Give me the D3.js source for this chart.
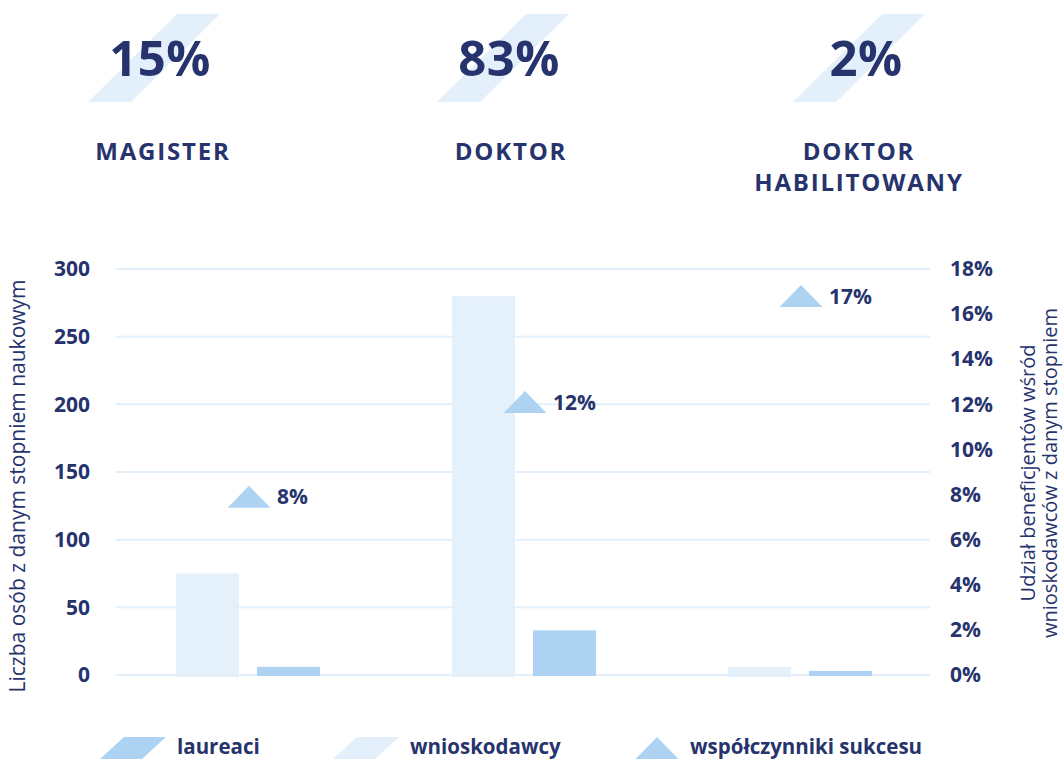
<!DOCTYPE html>
<html>
<head>
<meta charset="utf-8">
<script src="https://cdn.jsdelivr.net/npm/d3@7"></script>
<style>
  body { margin: 0; background: #fff; }
  text { font-family: "Open Sans", "Roboto", sans-serif; }
</style>
</head>
<body>
<div id="chart"></div>
<script>
// data
var degrees = ["MAGISTER", "DOKTOR", "DOKTOR HABILITOWANY"];
var degreeLines = [["MAGISTER"], ["DOKTOR"], ["DOKTOR", "HABILITOWANY"]];
var shareLabels = ["15%", "83%", "2%"];
var applicants = [75, 280, 6];        // wnioskodawcy
var winners = [6, 33, 3];             // laureaci
var successRate = [7.9, 12.1, 16.8];  // współczynniki sukcesu (%)
var leftTicks = [0, 50, 100, 150, 200, 250, 300];
var rightTicks = [0, 2, 4, 6, 8, 10, 12, 14, 16, 18];

var navy = "#26336d",
    light = "#e3effa",
    mid = "#aed3f2";

var width = 1063, height = 759;
var svg = d3.select("#chart").append("svg")
  .attr("width", width).attr("height", height);

// scales
var x = d3.scalePoint().domain(degrees).range([248, 800]);
var y = d3.scaleLinear().domain([0, 300]).range([675, 269]);
var y2 = d3.scaleLinear().domain([0, 18]).range([675, 269]);

// parallelogram helper
function para(cx, cy, w, h, slant) {
  return "M" + (cx - w / 2 + slant / 2) + "," + (cy - h / 2) +
         "L" + (cx + w / 2 + slant / 2) + "," + (cy - h / 2) +
         "L" + (cx + w / 2 - slant / 2) + "," + (cy + h / 2) +
         "L" + (cx - w / 2 - slant / 2) + "," + (cy + h / 2) + "Z";
}

// header: big shares
var headX = [154, 503, 859];
var head = svg.append("g").selectAll("g").data(degrees).enter().append("g");
head.append("path")
  .attr("d", function(d, i) { return para(headX[i], 58, 43, 88, 89); })
  .attr("fill", light);
head.append("text")
  .attr("x", function(d, i) { return [160, 509, 866][i]; })
  .attr("y", 76)
  .attr("text-anchor", "middle")
  .attr("font-size", "49px").attr("font-weight", 700)
  .attr("letter-spacing", "0.5px")
  .attr("fill", navy)
  .text(function(d, i) { return shareLabels[i]; });
head.each(function(d, i) {
  var t = d3.select(this).append("text")
    .attr("text-anchor", "middle")
    .attr("font-size", "24px").attr("font-weight", 700)
    .attr("letter-spacing", "1.8px")
    .attr("fill", navy);
  degreeLines[i].forEach(function(line, j) {
    t.append("tspan").attr("x", [163, 511, 859][i]).attr("y", 160 + j * 31).text(line);
  });
});

// grid
svg.append("g").selectAll("line").data(leftTicks).enter().append("line")
  .attr("x1", 116).attr("x2", 930)
  .attr("y1", function(d) { return y(d); }).attr("y2", function(d) { return y(d); })
  .attr("stroke", light).attr("stroke-width", 2);

// left axis
svg.append("g")
  .attr("transform", "translate(90,0)")
  .call(d3.axisLeft(y).tickValues(leftTicks).tickSize(0).tickPadding(0))
  .call(function(g) { g.select(".domain").remove(); })
  .selectAll("text")
  .attr("font-size", "21px").attr("font-weight", 700).attr("fill", navy);

// right axis
svg.append("g")
  .attr("transform", "translate(950,0)")
  .call(d3.axisRight(y2).tickValues(rightTicks).tickSize(0).tickPadding(0)
    .tickFormat(function(d) { return d + "%"; }))
  .call(function(g) { g.select(".domain").remove(); })
  .selectAll("text")
  .attr("font-size", "21px").attr("font-weight", 700).attr("fill", navy);

// axis titles
svg.append("text")
  .attr("transform", "translate(25,486) rotate(-90)")
  .attr("text-anchor", "middle")
  .attr("font-size", "21px").attr("fill", navy)
  .text("Liczba osób z danym stopniem naukowym");
var rt = svg.append("text")
  .attr("transform", "translate(1035,473) rotate(-90)")
  .attr("text-anchor", "middle")
  .attr("font-size", "20px").attr("fill", navy);
rt.append("tspan").attr("x", 0).attr("y", 0).text("Udział beneficjentów wśród");
rt.append("tspan").attr("x", 0).attr("y", 22).text("wnioskodawców z danym stopniem");

// bars
var barW = 63, gap = 18;
svg.append("g").selectAll("rect").data(applicants).enter().append("rect")
  .attr("x", function(d, i) { return x(degrees[i]) - gap / 2 - barW; })
  .attr("y", function(d) { return y(d); })
  .attr("width", barW)
  .attr("height", function(d) { return y(0) - y(d) + 2; })
  .attr("fill", light).attr("opacity", 0.95);
svg.append("g").selectAll("rect").data(winners).enter().append("rect")
  .attr("x", function(d, i) { return x(degrees[i]) + gap / 2; })
  .attr("y", function(d) { return y(d); })
  .attr("width", barW)
  .attr("height", function(d) { return y(0) - y(d) + 1; })
  .attr("fill", mid);

// success triangles
function tri(cx, cy, w, h) {
  return "M" + (cx - w / 2) + "," + (cy + h / 2) + "L" + cx + "," + (cy - h / 2) +
         "L" + (cx + w / 2) + "," + (cy + h / 2) + "Z";
}
var tg = svg.append("g").selectAll("g").data(successRate).enter().append("g");
tg.append("path")
  .attr("d", function(d, i) { return tri(x(degrees[i]) + 1, y2(d), 43, 22); })
  .attr("fill", mid);
tg.append("text")
  .attr("x", function(d, i) { return x(degrees[i]) + 29; })
  .attr("y", function(d) { return y2(d) + 7.5; })
  .attr("font-size", "21px").attr("font-weight", 700).attr("fill", navy)
  .text(function(d) { return Math.round(d) + "%"; });

// legend
var legend = svg.append("g");
legend.append("path").attr("d", para(133, 748, 42, 22, 24)).attr("fill", mid);
legend.append("text").attr("x", 177).attr("y", 754)
  .attr("font-size", "20.5px").attr("font-weight", 700).attr("fill", navy).text("laureaci");
legend.append("path").attr("d", para(366, 748, 42, 22, 24)).attr("fill", light);
legend.append("text").attr("x", 410).attr("y", 754)
  .attr("font-size", "20.5px").attr("font-weight", 700).attr("fill", navy).text("wnioskodawcy");
legend.append("path").attr("d", tri(657, 748, 43, 22)).attr("fill", mid);
legend.append("text").attr("x", 690).attr("y", 754)
  .attr("font-size", "20.5px").attr("font-weight", 700).attr("fill", navy).text("współczynniki sukcesu");
</script>
</body>
</html>
